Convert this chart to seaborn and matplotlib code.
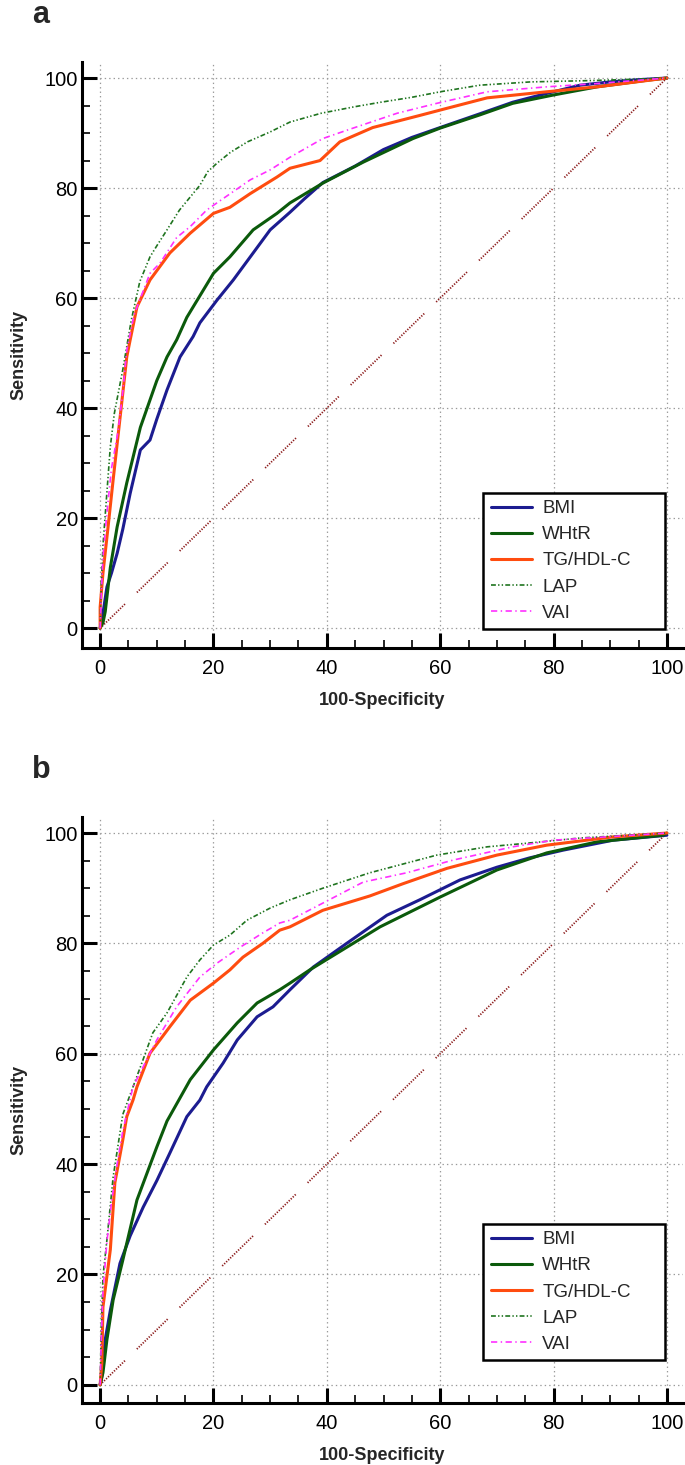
import matplotlib
matplotlib.use("Agg")
import matplotlib.pyplot as plt
import seaborn as sns
import pandas as pd
from matplotlib.lines import Line2D
from matplotlib.ticker import MultipleLocator

sns.set_style("white")
plt.rcParams["font.family"] = ["Liberation Sans", "DejaVu Sans"]
plt.rcParams["lines.scale_dashes"] = False

series_names = ["BMI", "WHtR", "TG/HDL-C", "LAP", "VAI"]
x_ticks = [0, 20, 40, 60, 80, 100]
y_ticks = [0, 20, 40, 60, 80, 100]
x_label = "100-Specificity"
y_label = "Sensitivity"
diag = [0, 100]

# ---------------- Panel a ----------------
bmi_a_x = [0, 0.4, 1.2, 2, 3, 4, 5.3, 7.1, 8.8, 10, 11.8, 14.1, 16.4, 17.6, 20.6, 23.5, 27, 30, 33.5, 36, 39.3, 45, 50, 55, 60, 67, 72.8, 78, 84.7, 90, 95, 100]
bmi_a_y = [0, 2, 7.5, 10, 13.6, 18, 24.5, 32.4, 34.2, 38, 43.3, 49.3, 53, 55.5, 59.6, 63.3, 68.2, 72.4, 75.6, 78, 81, 84, 87, 89.2, 91, 93.5, 95.6, 97, 98.7, 99.3, 99.7, 100]
whtr_a_x = [0, 0.5, 0.9, 1.8, 3, 4.7, 7.1, 10, 11.8, 13.5, 15.3, 20, 22.9, 27, 31.2, 33.5, 39.3, 46.4, 55.2, 60, 67, 72.8, 79.9, 87.7, 96.5, 100]
whtr_a_y = [0, 1, 3, 11, 18.4, 26.4, 36.5, 45, 49.3, 52.4, 56.5, 64.5, 67.5, 72.4, 75.4, 77.3, 80.9, 84.7, 89, 90.9, 93.3, 95.4, 96.9, 98.4, 99.6, 100]
tg_a_x = [0, 0, 0.5, 1.4, 2.3, 3.9, 4.7, 5.3, 6.5, 8.8, 12.3, 15.9, 20, 22.9, 26.5, 31.2, 33.5, 38.8, 42.3, 48.1, 56.4, 61.2, 68.3, 78.8, 87.7, 100]
tg_a_y = [0, 3.8, 10, 18.4, 27, 41.8, 49.3, 52.4, 58.4, 63.3, 68.2, 71.8, 75.4, 76.5, 79, 82, 83.6, 85, 88.4, 91, 93.2, 94.5, 96.4, 97.5, 98.4, 100]
lap_a_x = [0, 0.2, 0.5, 1, 1.8, 2.5, 4, 5.5, 7, 8.8, 10, 11.8, 14, 16, 17.6, 19, 20.6, 23, 26, 30, 33.5, 39, 45, 49.5, 55, 60, 67, 76, 85, 92, 100]
lap_a_y = [0, 8, 15, 22, 33, 39, 47, 56, 63, 67.5, 69.5, 72.4, 76, 78.5, 80.5, 83, 84.5, 86.5, 88.4, 90.2, 92, 93.6, 94.8, 95.6, 96.5, 97.5, 98.7, 99.3, 99.5, 99.7, 100]
vai_a_x = [0, 0.2, 0.5, 1.2, 2, 3.2, 4, 4.7, 6, 8.8, 10.6, 13.5, 15.9, 18.8, 20.6, 26.5, 30, 33.5, 39.3, 43.5, 52.4, 59.4, 68.3, 78.8, 87.7, 100]
vai_a_y = [0, 6, 13, 21, 29, 36, 43, 50.5, 57, 64.5, 66.4, 71, 73, 76, 77.3, 81.5, 83.3, 85.6, 89, 90.5, 93.6, 95.4, 97.5, 98.4, 99, 100]

# ---------------- Panel b ----------------
bmi_b_x = [0, 0.3, 0.9, 1.8, 3.5, 5.3, 7.6, 10, 12.3, 15.3, 17.6, 18.8, 21.7, 24.2, 27.7, 30.5, 33.5, 37.6, 43.5, 50.6, 56.4, 63.5, 70, 75.8, 81.7, 90.5, 100]
bmi_b_y = [0, 1.5, 8.2, 13.5, 22, 27, 32.2, 37, 42, 48.6, 51.6, 54, 58.3, 62.5, 66.7, 68.5, 71.6, 75.7, 80, 85.1, 87.9, 91.5, 93.8, 95.5, 96.9, 98.7, 99.6]
whtr_b_x = [0, 0.5, 1.2, 2.3, 4, 6.5, 10, 11.8, 14.1, 15.9, 20, 24.2, 27.7, 31.7, 33.5, 37, 49.4, 60, 70, 78.8, 87.7, 99.3, 100]
whtr_b_y = [0, 2.2, 8.2, 15.4, 22.6, 33.5, 43.1, 47.8, 52, 55.3, 60.7, 65.6, 69.2, 71.6, 72.8, 75.2, 83, 88.4, 93.3, 96.4, 98.4, 99.6, 100]
tg_b_x = [0, 0.3, 0.5, 1.8, 2.6, 4, 4.7, 5.8, 6.5, 8.8, 12.3, 15.9, 20, 22.9, 25.2, 28.7, 31.7, 33.5, 39.3, 47.6, 53.4, 61.2, 70, 78.8, 90.5, 100]
tg_b_y = [0, 4, 14.1, 24.5, 36.6, 44.4, 48.6, 51.6, 54, 60.1, 64.9, 69.7, 72.8, 75.2, 77.5, 80, 82.4, 83, 86, 88.6, 90.8, 93.6, 96, 97.8, 99.3, 100]
lap_b_x = [0, 0.2, 0.5, 1.2, 2.3, 4, 7.1, 9.3, 11.8, 15.3, 17.6, 20, 22.9, 25.9, 30, 33.5, 39.3, 47.6, 59.4, 68.3, 75.8, 84.7, 100]
lap_b_y = [0, 10, 19.6, 26.3, 37.7, 49, 57.6, 63.8, 67.4, 73.9, 77, 79.7, 81.5, 84.2, 86.4, 87.9, 90, 92.8, 96, 97.5, 98.2, 99.1, 100]
vai_b_x = [0, 0.2, 0.5, 1.2, 2, 3, 4, 5.8, 10, 13.5, 17.6, 20.6, 24.7, 28.7, 31.7, 33.5, 39.3, 46.4, 54.1, 62.3, 72.8, 79.9, 100]
vai_b_y = [0, 8, 17, 26, 33, 40, 46, 54, 62.5, 68.5, 73.9, 76.4, 79.3, 81.9, 83.7, 84.2, 87.3, 91.1, 92.8, 95.1, 97.5, 98.7, 100]

panel_a = {"BMI": (bmi_a_x, bmi_a_y), "WHtR": (whtr_a_x, whtr_a_y),
           "TG/HDL-C": (tg_a_x, tg_a_y), "LAP": (lap_a_x, lap_a_y), "VAI": (vai_a_x, vai_a_y)}
panel_b = {"BMI": (bmi_b_x, bmi_b_y), "WHtR": (whtr_b_x, whtr_b_y),
           "TG/HDL-C": (tg_b_x, tg_b_y), "LAP": (lap_b_x, lap_b_y), "VAI": (vai_b_x, vai_b_y)}

styles = {
    "BMI": dict(color="#1c1c90", lw=2.2, ls="-"),
    "WHtR": dict(color="#0b5a0b", lw=2.2, ls="-"),
    "TG/HDL-C": dict(color="#ff4c0f", lw=2.2, ls="-"),
    "LAP": dict(color="#1f741f", lw=1.2, ls=(0, (3.5, 1.6, 1.0, 1.6, 1.0, 1.6))),
    "VAI": dict(color="#ff30ff", lw=1.2, ls=(0, (4.5, 2.5, 1.0, 2.5))),
}
diag_ls = (0, tuple([0.9, 1.1] * 12 + [0.9, 12] + [0.9, 1.1] * 4 + [0.9, 12]))


def draw(ax, data, ylim, leg_y):
    ax.set_xlim(-3.2, 102.8)
    ax.set_ylim(*ylim)
    ax.set_xticks(x_ticks)
    ax.set_yticks(y_ticks)
    ax.xaxis.set_minor_locator(MultipleLocator(5))
    ax.yaxis.set_minor_locator(MultipleLocator(5))
    ax.grid(True, which="major", color="#9a9a9a", lw=0.9, ls=(0, (1, 2.2)))
    ax.set_axisbelow(True)
    sns.lineplot(x=diag, y=diag, ax=ax, color="#8b1a1a", lw=1.3, linestyle=diag_ls)
    for name in series_names:
        xs, ys = data[name]
        df = pd.DataFrame({"x": xs, "y": ys})
        st = styles[name]
        sns.lineplot(data=df, x="x", y="y", ax=ax, sort=False, estimator=None,
                     color=st["color"], lw=st["lw"], linestyle=st["ls"])
    for s in ["top", "right"]:
        ax.spines[s].set_visible(False)
    for s in ["left", "bottom"]:
        ax.spines[s].set_linewidth(2.2)
        ax.spines[s].set_color("black")
    ax.tick_params(which="major", direction="in", length=11, width=2.2,
                   labelsize=14.5, colors="black", left=True, bottom=True)
    ax.tick_params(axis="y", which="major", pad=3)
    ax.tick_params(axis="x", which="major", pad=8)
    ax.tick_params(which="minor", direction="in", length=6, width=1.2,
                   colors="black", left=True, bottom=True)
    ax.set_xlabel(x_label, fontsize=13, fontweight="bold", labelpad=10)
    ax.set_ylabel(y_label, fontsize=13, fontweight="bold", labelpad=12)
    handles = [Line2D([], [], color=styles[n]["color"], lw=styles[n]["lw"],
                      linestyle=styles[n]["ls"]) for n in series_names]
    leg = ax.legend(handles, series_names, loc="lower left",
                    bbox_to_anchor=(0.668, leg_y, 0.303, 0.2), mode="expand",
                    frameon=True, fancybox=False, edgecolor="black", framealpha=1,
                    fontsize=13.5, handlelength=2.2, handletextpad=0.55,
                    labelspacing=0.48, borderpad=0.4, borderaxespad=0)
    leg.get_frame().set_linewidth(1.8)


fig = plt.figure(figsize=(6.85, 14.65), dpi=100)
ax_a = fig.add_axes([0.1197, 0.5577, 0.877, 0.4003])
ax_b = fig.add_axes([0.1197, 0.0423, 0.877, 0.4000])
draw(ax_a, panel_a, (-3.6, 103), 0.032)
draw(ax_b, panel_b, (-3.3, 102.9), 0.073)

fig.text(41 / 685, 1 - 15 / 1465, "a", fontsize=22, fontweight="bold", ha="center", va="center")
fig.text(41 / 685, 1 - 770 / 1465, "b", fontsize=22, fontweight="bold", ha="center", va="center")

fig.savefig("out.png", dpi=100)
